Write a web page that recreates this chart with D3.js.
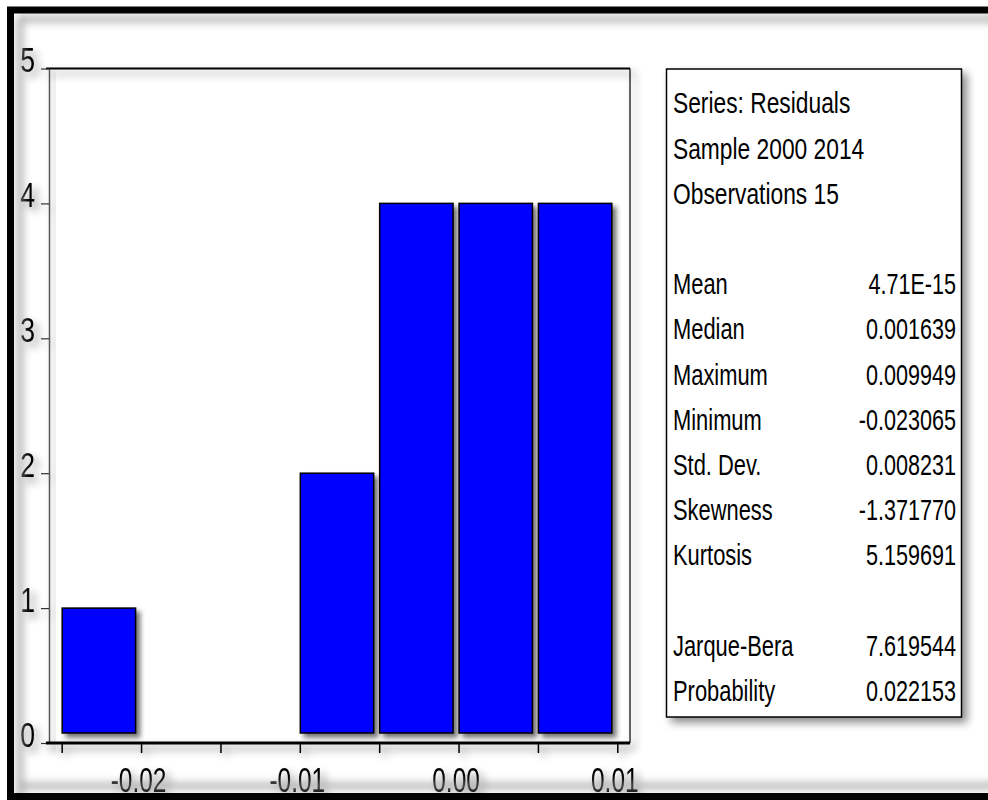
<!DOCTYPE html>
<html>
<head>
<meta charset="utf-8">
<script src="https://cdn.jsdelivr.net/npm/d3@7/dist/d3.min.js"></script>
<style>
  body { margin: 0; background: #fff; }
  svg { display: block; }
  text { font-family: "Liberation Sans", Arial, sans-serif; fill: #000; }
</style>
</head>
<body>
<div id="visual"></div>
<script>
/* histogram of residuals, EViews style */
var binStarts = [-0.025, -0.02, -0.015, -0.01, -0.005, 0.0, 0.005];
var binCounts = [1, 0, 0, 2, 4, 4, 4];
var binWidth = 0.005;

var yTicks = [0, 1, 2, 3, 4, 5];
var xMajorTicks = [-0.02, -0.01, 0.0, 0.01];
var xMinorTicks = [-0.025, -0.015, -0.005, 0.005];

var headerLines = ["Series: Residuals", "Sample 2000 2014", "Observations 15"];
var statNames = ["Mean", "Median", "Maximum", "Minimum", "Std. Dev.", "Skewness", "Kurtosis"];
var statValues = ["4.71E-15", "0.001639", "0.009949", "-0.023065", "0.008231", "-1.371770", "5.159691"];
var testNames = ["Jarque-Bera", "Probability"];
var testValues = ["7.619544", "0.022153"];

var width = 988, height = 800;

var svg = d3.select("#visual").append("svg")
    .attr("width", width)
    .attr("height", height);

var defs = svg.append("defs");

function shadow(id, dx, dy, blur, opacity) {
    var f = defs.append("filter").attr("id", id)
        .attr("x", "-20%").attr("y", "-20%").attr("width", "140%").attr("height", "140%");
    f.append("feGaussianBlur").attr("in", "SourceAlpha").attr("stdDeviation", blur).attr("result", "b");
    f.append("feOffset").attr("in", "b").attr("dx", dx).attr("dy", dy).attr("result", "o");
    f.append("feComponentTransfer").attr("in", "o").attr("result", "s")
        .append("feFuncA").attr("type", "linear").attr("slope", opacity);
    var m = f.append("feMerge");
    m.append("feMergeNode").attr("in", "s");
    m.append("feMergeNode").attr("in", "SourceGraphic");
}
shadow("shadow", 4, 4, 2.5, 0.55);
shadow("softShadow", 5, 5, 4, 0.45);

var blurF = defs.append("filter").attr("id", "blur")
    .attr("x", "-5%").attr("y", "-5%").attr("width", "110%").attr("height", "110%");
blurF.append("feGaussianBlur").attr("stdDeviation", 4);

svg.append("rect").attr("width", width).attr("height", height).attr("fill", "#fff");

/* scales */
var x = d3.scaleLinear().domain([-0.0258, 0.0108]).range([49, 630]);
var y = d3.scaleLinear().domain([0, 5]).range([743, 68.5]);

/* plot frame (top and right lines) */
var frame = svg.append("g").attr("filter", "url(#softShadow)");
frame.append("line")
    .attr("x1", 46).attr("x2", 630).attr("y1", y(5)).attr("y2", y(5))
    .attr("stroke", "#000").attr("stroke-width", 2);
frame.append("line")
    .attr("x1", 630).attr("x2", 630).attr("y1", y(5)).attr("y2", y(0))
    .attr("stroke", "#000").attr("stroke-width", 1.2);

/* bars */
var bins = binStarts.map(function (s, i) {
    return {x0: s, x1: s + binWidth, count: binCounts[i]};
}).filter(function (d) { return d.count > 0; });

svg.append("g").attr("filter", "url(#shadow)")
    .selectAll("rect")
    .data(bins)
    .enter().append("rect")
    .attr("x", function (d) { return x(d.x0) + 0.5; })
    .attr("y", function (d) { return y(d.count); })
    .attr("width", function (d) { return x(d.x1) - x(d.x0) - 6; })
    .attr("height", function (d) { return y(0) - 10 - y(d.count); })
    .attr("fill", "#0000ff")
    .attr("stroke", "#000")
    .attr("stroke-width", 1.5);

/* y axis */
var yAxis = svg.append("g")
    .attr("transform", "translate(49,0)")
    .attr("filter", "url(#softShadow)")
    .call(d3.axisLeft(y).tickValues(yTicks).tickSize(8).tickSizeOuter(0)
        .tickFormat(d3.format("d")));
yAxis.select(".domain").attr("stroke", "#555").attr("stroke-width", 1.5);
yAxis.selectAll(".tick line").attr("stroke", "#333").attr("stroke-width", 1.2);
yAxis.selectAll(".tick text")
    .attr("x", 0).attr("dy", 0).attr("y", 0)
    .attr("transform", "translate(-14,3) scale(0.76,1)")
    .attr("font-size", 35)
    .style("font-family", "'Liberation Sans', Arial, sans-serif")
    .attr("fill", "#000");

/* x axis */
var xAxis = svg.append("g")
    .attr("transform", "translate(0," + y(0) + ")")
    .attr("filter", "url(#softShadow)")
    .call(d3.axisBottom(x).tickValues(xMajorTicks.concat(xMinorTicks)).tickSize(10).tickSizeOuter(0)
        .tickFormat(function (d) {
            return xMajorTicks.indexOf(d) >= 0 ? d3.format(".2f")(d).replace("\u2212", "-") : "";
        }));
xAxis.select(".domain").attr("stroke", "#000").attr("stroke-width", 3)
    .attr("d", "M46,0H630");
xAxis.selectAll(".tick line").attr("stroke", "#000").attr("stroke-width", 1.5);
xAxis.selectAll(".tick text")
    .attr("x", 0).attr("y", 0).attr("dy", 0)
    .attr("transform", "translate(-3,49) scale(0.7,1)")
    .attr("font-size", 35)
    .style("font-family", "'Liberation Sans', Arial, sans-serif")
    .attr("fill", "#000");

/* statistics box */
var box = svg.append("g");
box.append("rect")
    .attr("x", 666.5).attr("y", 69).attr("width", 295).attr("height", 648)
    .attr("fill", "#fff").attr("stroke", "#000").attr("stroke-width", 1.5)
    .attr("filter", "url(#softShadow)");

var rows = [];
headerLines.forEach(function (t) { rows.push({label: t, value: ""}); });
rows.push({label: "", value: ""});
statNames.forEach(function (t, i) { rows.push({label: t, value: statValues[i]}); });
rows.push({label: "", value: ""});
testNames.forEach(function (t, i) { rows.push({label: t, value: testValues[i]}); });

var rowStep = 45.2, firstBase = 113.4;

var row = box.selectAll(".row")
    .data(rows)
    .enter().append("g")
    .attr("class", "row")
    .attr("transform", function (d, i) {
        return "translate(0," + (firstBase + i * rowStep) + ")";
    });

row.append("text")
    .attr("transform", function (d, i) {
        return "translate(673,0) scale(" + (i < 3 ? 0.76 : 0.73) + ",1)";
    })
    .attr("font-size", 30)
    .text(function (d) { return d.label; });

row.append("text")
    .attr("transform", "translate(956,0) scale(0.72,1)")
    .attr("text-anchor", "end")
    .attr("font-size", 30)
    .text(function (d) { return d.value; });

/* outer picture frame with soft inner shading */
svg.append("path")
    .attr("d", "M20,1000V19H1100M20,786H1100")
    .attr("fill", "none")
    .attr("stroke", "#9a9a9a")
    .attr("stroke-width", 5)
    .attr("filter", "url(#blur)");
svg.append("path")
    .attr("d", "M1000,10H10.5V796.5H1000")
    .attr("fill", "none")
    .attr("stroke", "#000")
    .attr("stroke-width", 7);
</script>
</body>
</html>
